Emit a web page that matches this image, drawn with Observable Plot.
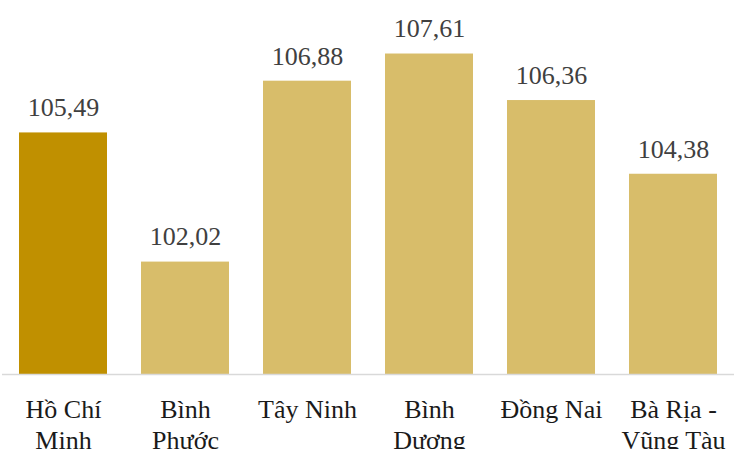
<!DOCTYPE html>
<html>
<head>
<meta charset="utf-8">
<script src="https://cdn.jsdelivr.net/npm/d3@7"></script>
<script src="https://cdn.jsdelivr.net/npm/@observablehq/plot@0.6"></script>
<style>
  html, body { margin: 0; padding: 0; background: #fff; }
  #chart svg { display: block; }
</style>
</head>
<body>
<div id="chart"></div>
<script>
const categories = ["Hồ Chí Minh", "Bình Phước", "Tây Ninh", "Bình Dương", "Đồng Nai", "Bà Rịa - Vũng Tàu"];
const tickLabels = ["Hồ Chí\nMinh", "Bình\nPhước", "Tây Ninh", "Bình\nDương", "Đồng Nai", "Bà Rịa -\nVũng Tàu"];
const values = [105.49, 102.02, 106.88, 107.61, 106.36, 104.38];
const highlight = ["Hồ Chí Minh"];

const data = categories.map((c, i) => ({category: c, value: values[i], label: tickLabels[i]}));
const labelOf = new Map(data.map(d => [d.category, d.label]));
const fmt = v => v.toFixed(2).replace(".", ",");

const chart = Plot.plot({
  width: 742,
  height: 449,
  marginTop: 39,
  marginBottom: 75,
  marginLeft: 2,
  marginRight: 8,
  style: {fontFamily: "'Liberation Serif', 'Times New Roman', serif", background: "#fff"},
  x: {domain: categories, paddingInner: 0.28, paddingOuter: 0.14, label: null},
  y: {domain: [99, 108], axis: null},
  marks: [
    Plot.barY(data, {
      x: "category", y1: 99, y2: "value",
      fill: d => highlight.includes(d.category) ? "#C09000" : "#D8BD6A"
    }),
    Plot.ruleY([99], {stroke: "#d9d9d9", strokeWidth: 1.5}),
    Plot.text(data, {
      x: "category", y: "value", text: d => fmt(d.value),
      dy: -25, fontSize: 26, fill: "#404040"
    }),
    Plot.axisX({
      tickSize: 0, tickPadding: 22, fontSize: 26, lineHeight: 1.19,
      tickFormat: c => labelOf.get(c), label: null, color: "#1a1a1a"
    })
  ]
});
document.getElementById("chart").appendChild(chart);
</script>
</body>
</html>
